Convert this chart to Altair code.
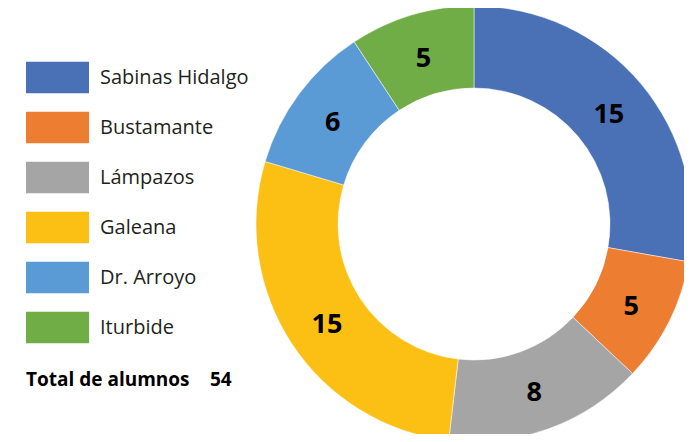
import altair as alt
import pandas as pd

categories = ["Sabinas Hidalgo", "Bustamante", "Lámpazos", "Galeana", "Dr. Arroyo", "Iturbide"]
values = [15, 5, 8, 15, 6, 5]
colors = ["#4A70B6", "#ED7D31", "#A5A5A5", "#FCBF14", "#5B9BD5", "#70AD47"]
total_label = "Total de alumnos"

df = pd.DataFrame({"municipio": categories, "alumnos": values, "orden": list(range(len(categories)))})

W, H = 676, 426
CX, CY = 466, 216
FONT = "Open Sans"

color_scale = alt.Scale(domain=categories, range=colors)

base = alt.Chart(df).encode(
    theta=alt.Theta("alumnos:Q", stack=True),
    order=alt.Order("orden:Q"),
    x=alt.value(CX),
    y=alt.value(CY),
)

arcs = base.mark_arc(innerRadius=136, outerRadius=218, stroke="white", strokeWidth=0.5).encode(
    color=alt.Color(
        "municipio:N",
        scale=color_scale,
        sort=categories,
        legend=alt.Legend(
            orient="none",
            legendX=18,
            legendY=38,
            title=None,
            symbolType="M-1,-0.5H1V0.5H-1Z",
            symbolSize=3969,
            symbolStrokeWidth=0,
            symbolOpacity=1,
            labelFont=FONT,
            labelFontSize=20,
            labelColor="#231f20",
            labelOffset=11,
            rowPadding=2,
        ),
    )
)

labels = base.mark_text(radius=176, dy=4, font=FONT, fontSize=27, fontWeight="bold", color="black").encode(
    text=alt.Text("alumnos:Q")
)

total_df = pd.DataFrame({"t": [total_label]})
total_text = alt.Chart(total_df).mark_text(
    font=FONT, fontSize=19, fontWeight="bold", align="left", baseline="middle", color="black"
).encode(text="t:N", x=alt.value(18), y=alt.value(372))

total_num = alt.Chart(df).transform_aggregate(total="sum(alumnos)").mark_text(
    font=FONT, fontSize=19, fontWeight="bold", align="left", baseline="middle", color="black"
).encode(text="total:Q", x=alt.value(202), y=alt.value(372))

chart = alt.layer(arcs, labels, total_text, total_num).properties(
    width=W, height=H, autosize=alt.AutoSizeParams(type="none"), padding=0
).configure_view(stroke=None)

chart.save("out.html", embed_options={"renderer": "svg", "actions": False})
